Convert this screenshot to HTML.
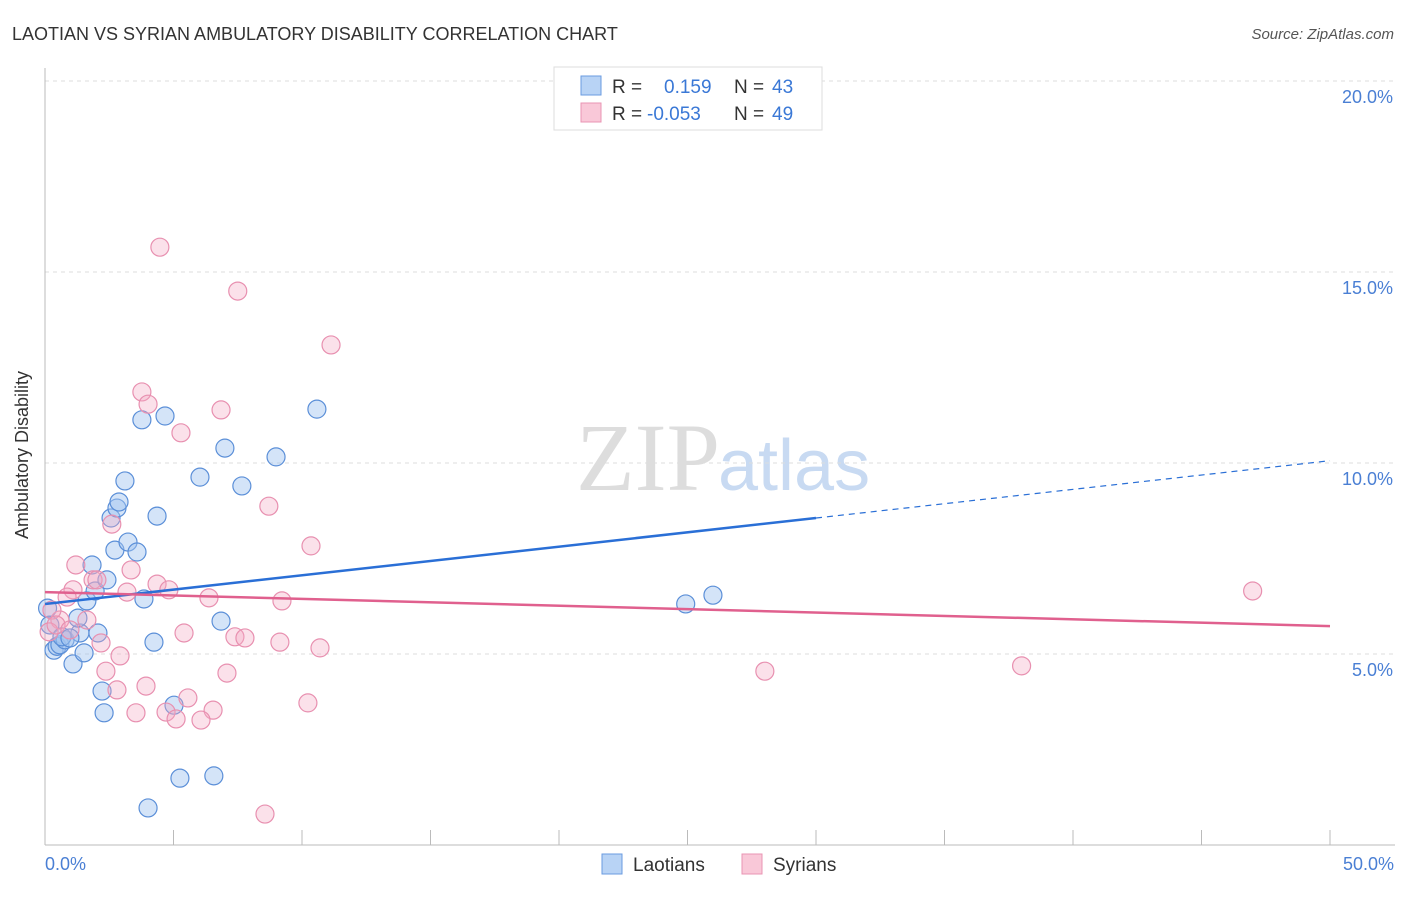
<!DOCTYPE html>
<html><head><meta charset="utf-8"><style>
body{margin:0;background:#fff;font-family:"Liberation Sans",sans-serif}
</style></head><body>
<svg width="1406" height="892" xmlns="http://www.w3.org/2000/svg" font-family="Liberation Sans, sans-serif">
<text x="12" y="40" font-size="18" fill="#333">LAOTIAN VS SYRIAN AMBULATORY DISABILITY CORRELATION CHART</text>
<text x="1394" y="39" font-size="15" fill="#555" font-style="italic" text-anchor="end">Source: ZipAtlas.com</text>
<text x="720" y="490" font-size="96" fill="#ddd" text-anchor="end" font-family="Liberation Serif, serif">ZIP</text>
<text x="718" y="490" font-size="72" fill="#c8daf2">atlas</text>
<g id="grid"></g>
<g id="axes"></g>
<g id="pts"></g>
<g id="trend"></g>
<text x="28" y="455" font-size="18" fill="#333" transform="rotate(-90 28 455)" text-anchor="middle">Ambulatory Disability</text>
<text x="45" y="870" font-size="18" fill="#4a7fd4">0.0%</text>
<text x="1394" y="870" font-size="18" fill="#4a7fd4" text-anchor="end">50.0%</text>
<g>
<rect x="554" y="67" width="268" height="63" fill="#fff" stroke="#ddd"/>
<rect x="581" y="76" width="20" height="19" fill="#b8d3f5" stroke="#6a9be0"/>
<rect x="581" y="103" width="20" height="19" fill="#f9c8d8" stroke="#e994b3"/>
<text x="612" y="93" font-size="19" fill="#333">R =</text>
<text x="664" y="93" font-size="19" fill="#3a78d6">0.159</text>
<text x="734" y="93" font-size="19" fill="#333">N =</text>
<text x="772" y="93" font-size="19" fill="#3a78d6">43</text>
<text x="612" y="120" font-size="19" fill="#333">R =</text>
<text x="647" y="120" font-size="19" fill="#3a78d6">-0.053</text>
<text x="734" y="120" font-size="19" fill="#333">N =</text>
<text x="772" y="120" font-size="19" fill="#3a78d6">49</text>
</g>
<g><rect x="602" y="854" width="20" height="20" fill="#b8d3f5" stroke="#6a9be0"/><text x="633" y="871" font-size="19" fill="#333">Laotians</text></g>
<g><rect x="742" y="854" width="20" height="20" fill="#f9c8d8" stroke="#e994b3"/><text x="773" y="871" font-size="19" fill="#333">Syrians</text></g>
</svg>
<script>
const yTicks=[5,10,15,20];
const yTickLabels=["5.0%","10.0%","15.0%","20.0%"];
const xTicks=[0,5,10,15,20,25,30,35,40,45,50];
const laoX=[0.35,0.47,0.58,0.78,0.19,1.09,1.52,1.36,1.28,1.63,1.83,1.95,2.06,2.41,2.22,2.30,2.57,2.80,2.88,2.72,3.23,3.58,3.11,3.85,3.77,4.01,4.24,4.36,4.67,5.02,5.25,6.03,6.57,6.85,7.0,7.66,8.99,10.58,24.93,25.99,0.1,0.66,0.97];
const laoY=[5.1,5.2,5.24,5.37,5.76,4.74,5.03,5.55,5.94,6.39,7.33,6.65,5.55,6.94,4.03,3.46,8.56,8.82,8.98,7.72,7.93,7.67,9.53,6.44,11.13,0.97,5.31,8.61,11.23,3.66,1.75,9.63,1.81,5.86,10.39,9.4,10.16,11.41,6.31,6.54,6.2,5.45,5.42];
const syrX=[4.47,7.5,11.13,3.77,4.01,6.85,5.29,8.71,10.35,2.6,1.2,3.35,1.87,2.02,1.09,0.86,3.19,4.36,4.82,6.38,9.22,1.63,0.58,0.27,0.16,5.41,7.39,7.78,2.18,9.14,10.7,2.92,2.37,7.08,2.8,3.93,5.56,4.71,3.54,5.1,6.54,6.07,10.23,8.56,28.01,38.0,46.99,0.43,0.97];
const syrY=[15.65,14.5,13.09,11.86,11.54,11.39,10.79,8.87,7.83,8.4,7.33,7.2,6.94,6.94,6.68,6.49,6.62,6.83,6.68,6.47,6.39,5.89,5.89,6.15,5.58,5.55,5.45,5.42,5.29,5.31,5.16,4.95,4.55,4.5,4.06,4.16,3.85,3.48,3.46,3.3,3.53,3.27,3.72,0.81,4.55,4.69,6.65,5.76,5.63];
const laoTrend=[6.31,10.06];
const syrTrend=[6.62,5.73];
const NS="http://www.w3.org/2000/svg";
const X=v=>45+v/50*1285, Y=v=>845-v*38.2;
function mk(t,a,p){const e=document.createElementNS(NS,t);for(const k in a)e.setAttribute(k,a[k]);document.getElementById(p).appendChild(e);return e;}
yTicks.forEach((t,i)=>{
 const l=mk('line',{x1:45,x2:1395,y1:Y(t),y2:Y(t),stroke:'#ddd','stroke-dasharray':'4,4'},'grid');
 
 
 const tx=mk('text',{x:1393,y:Y(t)+22,'font-size':18,fill:'#4a7fd4','text-anchor':'end'},'grid');tx.textContent=yTickLabels[i];
 
 
});
let a=mk('line',{x1:45,x2:45,y1:68,y2:845,stroke:'#bbb'},'axes');


a=mk('line',{x1:45,x2:1395,y1:845,y2:845,stroke:'#bbb'},'axes');


xTicks.forEach(t=>{const l=mk('line',{x1:X(t),x2:X(t),y1:830,y2:845,stroke:'#bbb'},'axes');
 
 });
laoX.forEach((x,i)=>{const c=mk('circle',{cx:X(x),cy:Y(laoY[i]),r:9,fill:'rgba(160,196,240,0.45)',stroke:'#5b8fd8','stroke-width':1.2},'pts');
 
 });
syrX.forEach((x,i)=>{const c=mk('circle',{cx:X(x),cy:Y(syrY[i]),r:9,fill:'rgba(244,170,195,0.35)',stroke:'#e890b0','stroke-width':1.2},'pts');
 
 });
const lt=v=>laoTrend[0]+(laoTrend[1]-laoTrend[0])*v/50;
let t=mk('line',{x1:X(0),y1:Y(lt(0)),x2:X(30),y2:Y(lt(30)),stroke:'#2a6fd6','stroke-width':2.5},'trend');


t=mk('line',{x1:X(30),y1:Y(lt(30)),x2:X(50),y2:Y(lt(50)),stroke:'#2a6fd6','stroke-width':1.2,'stroke-dasharray':'6,5'},'trend');


t=mk('line',{x1:X(0),y1:Y(syrTrend[0]),x2:X(50),y2:Y(syrTrend[1]),stroke:'#e0608e','stroke-width':2.5},'trend');


</script>
</body></html>
